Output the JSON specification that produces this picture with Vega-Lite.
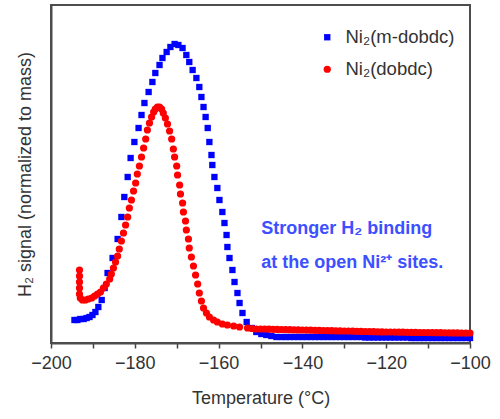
{
  "$schema": "https://vega.github.io/schema/vega-lite/v6.json",
  "width": 419,
  "height": 338,
  "autosize": "none",
  "padding": {"left": 51, "top": 5, "right": 30, "bottom": 76},
  "background": "white",
  "config": {
    "font": "Liberation Sans",
    "view": {"stroke": "#4d4d4d", "strokeWidth": 2}
  },
  "layer": [
    {
      "data": {"values": [
        {"s":"m","t":-194.4,"v":23},{"s":"m","t":-193.7,"v":23},{"s":"m","t":-193.0,"v":24},{"s":"m","t":-192.2,"v":24},{"s":"m","t":-191.5,"v":25},{"s":"m","t":-190.8,"v":26},{"s":"m","t":-190.1,"v":28},{"s":"m","t":-189.4,"v":31},{"s":"m","t":-188.7,"v":36},{"s":"m","t":-187.9,"v":43},{"s":"m","t":-187.2,"v":55},{"s":"m","t":-186.5,"v":70},{"s":"m","t":-185.3,"v":85},{"s":"m","t":-184.1,"v":104},{"s":"m","t":-183.2,"v":126},{"s":"m","t":-182.5,"v":146},{"s":"m","t":-181.7,"v":166},{"s":"m","t":-181.0,"v":185},{"s":"m","t":-180.1,"v":201},{"s":"m","t":-179.1,"v":215},{"s":"m","t":-178.4,"v":228},{"s":"m","t":-177.7,"v":240},{"s":"m","t":-176.7,"v":251},{"s":"m","t":-175.8,"v":261},{"s":"m","t":-175.1,"v":270},{"s":"m","t":-174.1,"v":278},{"s":"m","t":-173.4,"v":285},{"s":"m","t":-172.4,"v":291},{"s":"m","t":-171.5,"v":296},{"s":"m","t":-170.5,"v":299},{"s":"m","t":-169.6,"v":298},{"s":"m","t":-168.6,"v":295},{"s":"m","t":-167.7,"v":288},{"s":"m","t":-167.0,"v":281},{"s":"m","t":-166.2,"v":273},{"s":"m","t":-165.3,"v":265},{"s":"m","t":-164.6,"v":256},{"s":"m","t":-164.1,"v":246},{"s":"m","t":-163.6,"v":236},{"s":"m","t":-163.1,"v":226},{"s":"m","t":-162.6,"v":215},{"s":"m","t":-162.2,"v":201},{"s":"m","t":-161.7,"v":188},{"s":"m","t":-161.5,"v":178},{"s":"m","t":-161.0,"v":166},{"s":"m","t":-160.3,"v":155},{"s":"m","t":-159.8,"v":143},{"s":"m","t":-159.1,"v":131},{"s":"m","t":-158.6,"v":120},{"s":"m","t":-158.1,"v":108},{"s":"m","t":-157.9,"v":96},{"s":"m","t":-157.4,"v":85},{"s":"m","t":-156.7,"v":73},{"s":"m","t":-156.2,"v":61},{"s":"m","t":-155.5,"v":50},{"s":"m","t":-155.0,"v":40},{"s":"m","t":-154.3,"v":30},{"s":"m","t":-153.3,"v":21},{"s":"m","t":-152.1,"v":15},{"s":"m","t":-151.0,"v":11},{"s":"m","t":-149.8,"v":9},{"s":"m","t":-148.6,"v":8},{"s":"m","t":-147.4,"v":7},{"s":"m","t":-146.2,"v":6},
        {"s":"m","t":-145,"v":6},{"s":"m","t":-144,"v":6},{"s":"m","t":-143,"v":6},{"s":"m","t":-142,"v":6},{"s":"m","t":-141,"v":6},{"s":"m","t":-140,"v":6},{"s":"m","t":-139,"v":6},{"s":"m","t":-138,"v":6},{"s":"m","t":-137,"v":6},{"s":"m","t":-136,"v":6},{"s":"m","t":-135,"v":6},{"s":"m","t":-134,"v":6},{"s":"m","t":-133,"v":6},{"s":"m","t":-132,"v":6},{"s":"m","t":-131,"v":6},{"s":"m","t":-130,"v":6},{"s":"m","t":-129,"v":6},{"s":"m","t":-128,"v":6},{"s":"m","t":-127,"v":6},{"s":"m","t":-126,"v":6},{"s":"m","t":-125,"v":5.5},{"s":"m","t":-124,"v":5.5},{"s":"m","t":-123,"v":5.5},{"s":"m","t":-122,"v":5.5},{"s":"m","t":-121,"v":5.5},{"s":"m","t":-120,"v":5.5},{"s":"m","t":-119,"v":5.5},{"s":"m","t":-118,"v":5.5},{"s":"m","t":-117,"v":5.5},{"s":"m","t":-116,"v":5.5},{"s":"m","t":-115,"v":5.5},{"s":"m","t":-114,"v":5},{"s":"m","t":-113,"v":5},{"s":"m","t":-112,"v":5},{"s":"m","t":-111,"v":5},{"s":"m","t":-110,"v":5},{"s":"m","t":-109,"v":5},{"s":"m","t":-108,"v":5},{"s":"m","t":-107,"v":5},{"s":"m","t":-106,"v":5},{"s":"m","t":-105,"v":5},{"s":"m","t":-104,"v":5},{"s":"m","t":-103,"v":5},{"s":"m","t":-102,"v":5},{"s":"m","t":-101,"v":5},{"s":"m","t":-100,"v":5},
        {"s":"d","t":-193.2,"v":73},{"s":"d","t":-193.2,"v":67},{"s":"d","t":-193.2,"v":61},{"s":"d","t":-193.2,"v":55},{"s":"d","t":-193.2,"v":49},{"s":"d","t":-193.0,"v":45},{"s":"d","t":-192.5,"v":43},{"s":"d","t":-191.8,"v":43},{"s":"d","t":-191.1,"v":44},{"s":"d","t":-190.3,"v":45},{"s":"d","t":-189.6,"v":47},{"s":"d","t":-188.9,"v":49},{"s":"d","t":-188.2,"v":51},{"s":"d","t":-187.5,"v":55},{"s":"d","t":-186.8,"v":59},{"s":"d","t":-186.0,"v":64},{"s":"d","t":-185.6,"v":69},{"s":"d","t":-185.1,"v":75},{"s":"d","t":-184.6,"v":81},{"s":"d","t":-184.1,"v":87},{"s":"d","t":-183.7,"v":94},{"s":"d","t":-183.2,"v":102},{"s":"d","t":-182.7,"v":110},{"s":"d","t":-182.2,"v":118},{"s":"d","t":-181.7,"v":126},{"s":"d","t":-181.3,"v":135},{"s":"d","t":-180.8,"v":143},{"s":"d","t":-180.3,"v":152},{"s":"d","t":-179.8,"v":160},{"s":"d","t":-179.4,"v":169},{"s":"d","t":-178.9,"v":177},{"s":"d","t":-178.4,"v":186},{"s":"d","t":-177.9,"v":195},{"s":"d","t":-177.4,"v":204},{"s":"d","t":-177.0,"v":213},{"s":"d","t":-176.5,"v":220},{"s":"d","t":-176.0,"v":226},{"s":"d","t":-175.5,"v":231},{"s":"d","t":-175.1,"v":234},{"s":"d","t":-174.6,"v":236},{"s":"d","t":-174.1,"v":236},{"s":"d","t":-173.6,"v":234},{"s":"d","t":-173.2,"v":230},{"s":"d","t":-172.7,"v":225},{"s":"d","t":-172.2,"v":219},{"s":"d","t":-171.7,"v":212},{"s":"d","t":-171.2,"v":204},{"s":"d","t":-170.8,"v":194},{"s":"d","t":-170.5,"v":186},{"s":"d","t":-170.0,"v":177},{"s":"d","t":-169.8,"v":168},{"s":"d","t":-169.3,"v":158},{"s":"d","t":-169.1,"v":149},{"s":"d","t":-168.6,"v":140},{"s":"d","t":-168.4,"v":131},{"s":"d","t":-167.9,"v":122},{"s":"d","t":-167.7,"v":113},{"s":"d","t":-167.2,"v":104},{"s":"d","t":-167.0,"v":95},{"s":"d","t":-166.5,"v":86},{"s":"d","t":-166.0,"v":77},{"s":"d","t":-165.5,"v":68},{"s":"d","t":-165.0,"v":59},{"s":"d","t":-164.6,"v":50},{"s":"d","t":-164.1,"v":42},{"s":"d","t":-163.6,"v":35},{"s":"d","t":-162.9,"v":30},{"s":"d","t":-162.2,"v":26},{"s":"d","t":-161.2,"v":23},{"s":"d","t":-160.3,"v":21},{"s":"d","t":-159.1,"v":19},{"s":"d","t":-157.9,"v":18},{"s":"d","t":-156.4,"v":17},{"s":"d","t":-155.0,"v":16},{"s":"d","t":-153.1,"v":15},
        {"s":"d","t":-152,"v":14.5},{"s":"d","t":-151,"v":14},{"s":"d","t":-150,"v":14},{"s":"d","t":-149,"v":14},{"s":"d","t":-148,"v":13.8},{"s":"d","t":-147,"v":13.7},{"s":"d","t":-146,"v":13.6},{"s":"d","t":-145,"v":13.5},{"s":"d","t":-144,"v":13.4},{"s":"d","t":-143,"v":13.3},{"s":"d","t":-142,"v":13.2},{"s":"d","t":-141,"v":13.1},{"s":"d","t":-140,"v":13},{"s":"d","t":-139,"v":12.9},{"s":"d","t":-138,"v":12.8},{"s":"d","t":-137,"v":12.7},{"s":"d","t":-136,"v":12.6},{"s":"d","t":-135,"v":12.5},{"s":"d","t":-134,"v":12.4},{"s":"d","t":-133,"v":12.3},{"s":"d","t":-132,"v":12.2},{"s":"d","t":-131,"v":12.1},{"s":"d","t":-130,"v":12},{"s":"d","t":-129,"v":11.9},{"s":"d","t":-128,"v":11.8},{"s":"d","t":-127,"v":11.7},{"s":"d","t":-126,"v":11.6},{"s":"d","t":-125,"v":11.5},{"s":"d","t":-124,"v":11.4},{"s":"d","t":-123,"v":11.3},{"s":"d","t":-122,"v":11.2},{"s":"d","t":-121,"v":11.1},{"s":"d","t":-120,"v":11},{"s":"d","t":-119,"v":11},{"s":"d","t":-118,"v":10.9},{"s":"d","t":-117,"v":10.8},{"s":"d","t":-116,"v":10.8},{"s":"d","t":-115,"v":10.7},{"s":"d","t":-114,"v":10.6},{"s":"d","t":-113,"v":10.6},{"s":"d","t":-112,"v":10.5},{"s":"d","t":-111,"v":10.5},{"s":"d","t":-110,"v":10.4},{"s":"d","t":-109,"v":10.4},{"s":"d","t":-108,"v":10.3},{"s":"d","t":-107,"v":10.3},{"s":"d","t":-106,"v":10.2},{"s":"d","t":-105,"v":10.2},{"s":"d","t":-104,"v":10.1},{"s":"d","t":-103,"v":10.1},{"s":"d","t":-102,"v":10},{"s":"d","t":-101,"v":10},{"s":"d","t":-100,"v":10}
      ]},
      "mark": {"type": "point", "filled": true, "opacity": 1},
      "encoding": {
        "x": {
          "field": "t", "type": "quantitative",
          "scale": {"domain": [-200, -100], "nice": false, "zero": false},
          "axis": {
            "values": [-200, -190, -180, -170, -160, -150, -140, -130, -120, -110, -100],
            "labelExpr": "datum.value % 20 == 0 ? datum.label : ''",
            "labelFlush": false,
            "labelOverlap": false,
            "grid": false,
            "domainColor": "#4d4d4d",
            "domainWidth": 2,
            "tickColor": "#444444",
            "tickWidth": 1.5,
            "tickSize": 5,
            "labelFontSize": 18,
            "labelColor": "#333333",
            "labelPadding": 6,
            "title": "Temperature (°C)",
            "titleFontSize": 18,
            "titleFontWeight": "normal",
            "titleColor": "#333333",
            "titlePadding": 17
          }
        },
        "y": {
          "field": "v", "type": "quantitative",
          "scale": {"domain": [0, 338], "nice": false, "zero": false},
          "axis": {
            "labels": false,
            "ticks": false,
            "grid": false,
            "domainColor": "#4d4d4d",
            "domainWidth": 2,
            "title": "H₂ signal (normalized to mass)",
            "titleFontSize": 18,
            "titleFontWeight": "normal",
            "titleColor": "#333333",
            "titlePadding": 17
          }
        },
        "color": {
          "field": "s", "type": "nominal",
          "scale": {"domain": ["m", "d"], "range": ["#0000ff", "#ff0000"]},
          "legend": {
            "title": null,
            "orient": "none",
            "legendX": 267,
            "legendY": 23,
            "labelExpr": "datum.value == 'm' ? 'Ni₂(m-dobdc)' : 'Ni₂(dobdc)'",
            "labelFontSize": 18.5,
            "labelColor": "#333333",
            "labelOffset": 9,
            "symbolSize": 45,
            "rowPadding": 13,
            "padding": 0
          }
        },
        "shape": {
          "field": "s", "type": "nominal",
          "scale": {"domain": ["m", "d"], "range": ["square", "circle"]},
          "legend": null
        },
        "size": {
          "field": "s", "type": "nominal",
          "scale": {"domain": ["m", "d"], "range": [40, 52]},
          "legend": null
        }
      }
    },
    {
      "data": {"values": [
        {"t": -149.8, "v": 114, "txt": "Stronger H₂ binding"},
        {"t": -149.8, "v": 80, "txt": "at the open Ni²⁺ sites."}
      ]},
      "mark": {"type": "text", "align": "left", "baseline": "middle", "fontSize": 18, "fontWeight": "bold", "color": "#3c50ff"},
      "encoding": {
        "x": {"field": "t", "type": "quantitative"},
        "y": {"field": "v", "type": "quantitative"},
        "text": {"field": "txt"}
      }
    }
  ]
}
